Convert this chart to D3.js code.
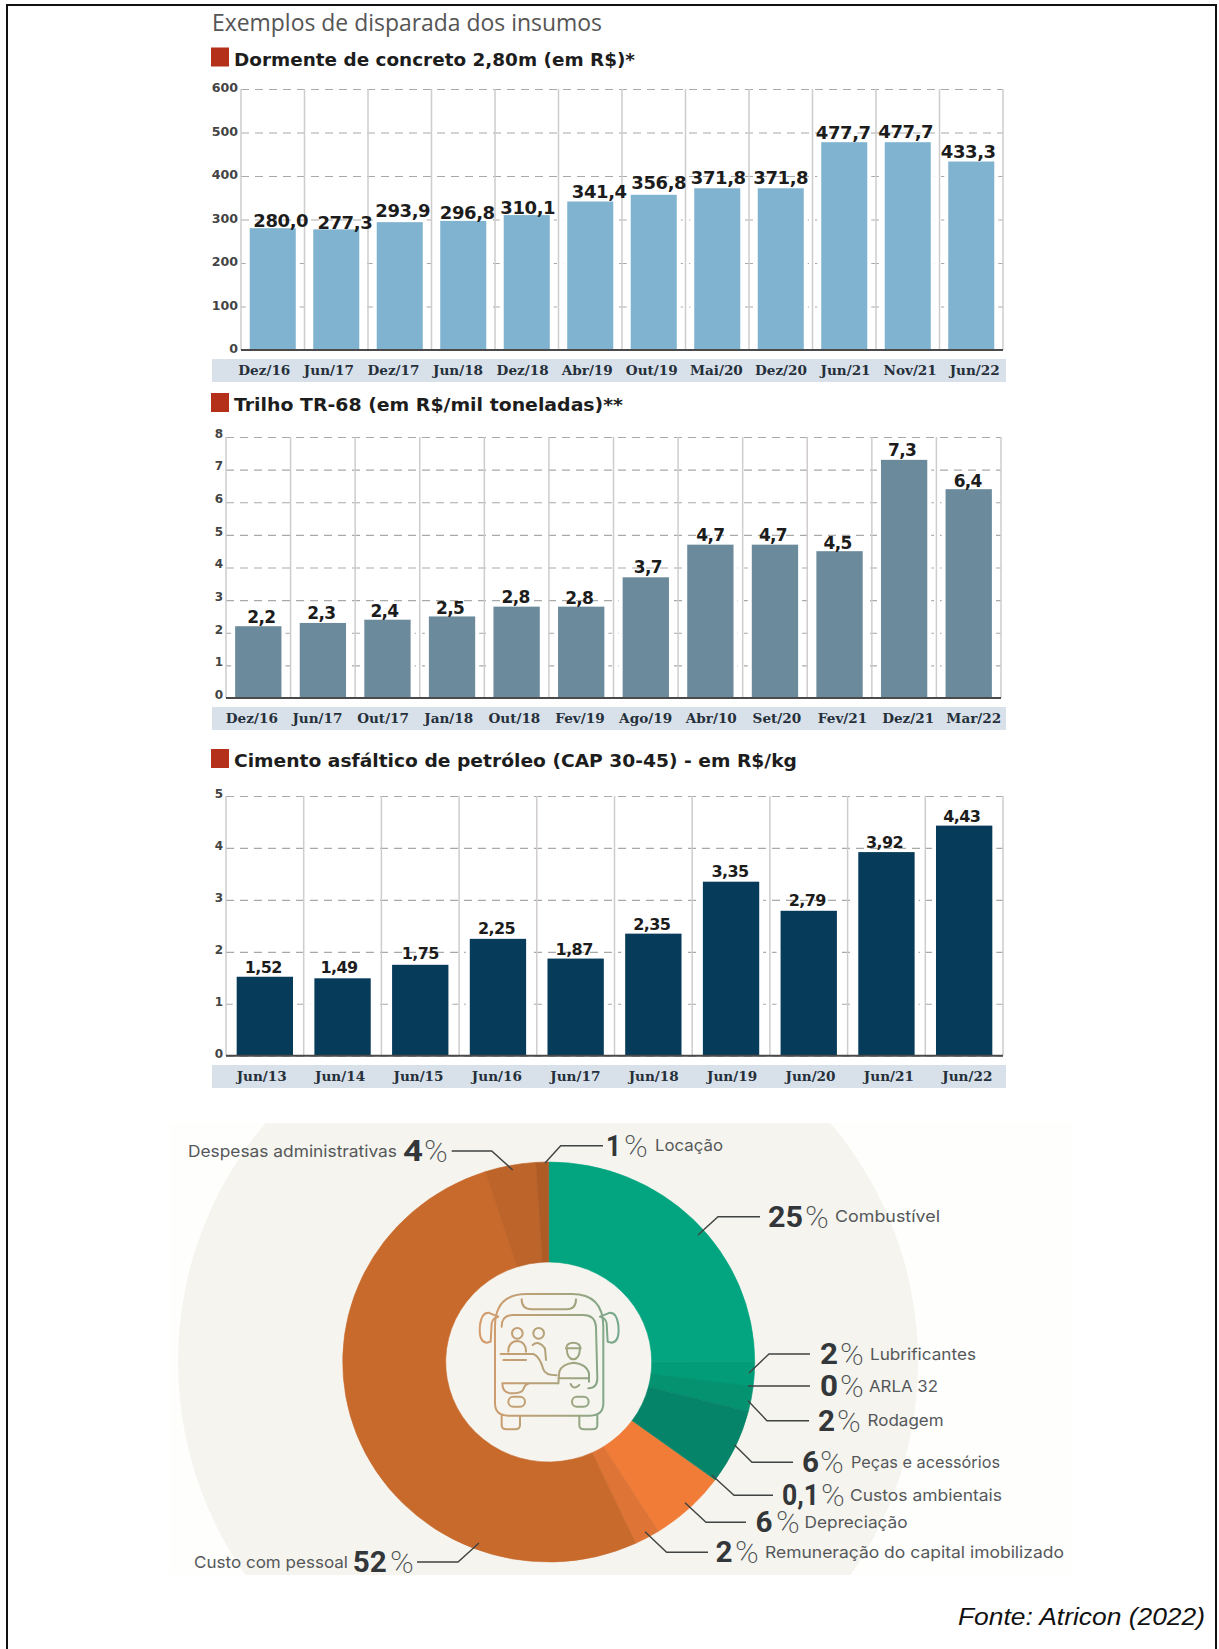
<!DOCTYPE html>
<html lang="pt-BR">
<head>
<meta charset="utf-8">
<title>Exemplos de disparada dos insumos</title>
<script src="https://cdnjs.cloudflare.com/ajax/libs/d3/7.9.0/d3.min.js"></script>
<style>
  html, body { margin: 0; padding: 0; background: #fff; }
  svg { display: block; }
</style>
</head>
<body>
<svg id="page" width="1219" height="1649"></svg>
<script>
// Dormente de concreto
const dormenteCats = ["Dez/16","Jun/17","Dez/17","Jun/18","Dez/18","Abr/19","Out/19","Mai/20","Dez/20","Jun/21","Nov/21","Jun/22"];
const dormenteVals = [280.0,277.3,293.9,296.8,310.1,341.4,356.8,371.8,371.8,477.7,477.7,433.3];
const dormenteTicks = [0,100,200,300,400,500,600];

// Trilho TR-68
const trilhoCats = ["Dez/16","Jun/17","Out/17","Jan/18","Out/18","Fev/19","Ago/19","Abr/10","Set/20","Fev/21","Dez/21","Mar/22"];
const trilhoVals = [2.2,2.3,2.4,2.5,2.8,2.8,3.7,4.7,4.7,4.5,7.3,6.4];
const trilhoTicks = [0,1,2,3,4,5,6,7,8];

// Cimento asfáltico
const capCats = ["Jun/13","Jun/14","Jun/15","Jun/16","Jun/17","Jun/18","Jun/19","Jun/20","Jun/21","Jun/22"];
const capVals = [1.52,1.49,1.75,2.25,1.87,2.35,3.35,2.79,3.92,4.43];
const capTicks = [0,1,2,3,4,5];

// Composição de custos
const custoNomes = ["Combustível","Lubrificantes","ARLA 32","Rodagem","Peças e acessórios","Custos ambientais","Depreciação","Remuneração do capital imobilizado","Custo com pessoal","Despesas administrativas","Locação"];
const custoVals = [25,2,0,2,6,0.1,6,2,52,4,1];
const custoCores = ["#02A580","#039C79","#049472","#049270","#06846A","#06846A","#F07C38","#DE7436","#C96A2D","#BC6429","#AE5B26"];

// Hand-set label placement for the bar values: horizontal nudge and gap over the bar
const dormenteNudge = [8,8.6,3,4,1,9,5,1,0,-1,-2,-3];
const dormenteGap = [1.5,0.4,5.5,1.9,1.1,3.8,5.8,4.3,4.3,3.5,4.2,3.5];
const trilhoNudge = [3,-1.5,-3,-2,-1,-2,2,0,-2,-2,-2,-1];
const trilhoGap = [3,4,3,2.5,3.5,2.5,4,4,4,2,3.5,2.5];
const capNudge = [-1.5,-3.5,0,-1.5,-1.5,-1.5,-1,-1.5,-2,-2.4];
const capGap = [3.8,5,6,5,3.6,3.7,4.4,5,4,4];

const svg = d3.select("#page");
const SANS_BOLD = "'DejaVu Sans', sans-serif";
const SERIF_BOLD = "'DejaVu Serif', serif";

// Page frame: open at the bottom edge
svg.append("path").attr("d", "M7 1649 V5 H1216 V1649")
  .attr("fill", "none").attr("stroke", "#111").attr("stroke-width", 2);

svg.append("text").attr("x", 212).attr("y", 31)
  .attr("textLength", 390).attr("lengthAdjust", "spacingAndGlyphs")
  .style("font", "400 24px 'Open Sans', sans-serif").style("fill", "#555")
  .text("Exemplos de disparada dos insumos");

function barPanel(o) {
  const g = svg.append("g");

  // Section heading with its red square
  g.append("rect").attr("x", 211).attr("y", o.titleY - 18).attr("width", 18).attr("height", 19).attr("fill", "#B5301A");
  g.append("text").attr("x", 234).attr("y", o.titleY)
    .attr("textLength", o.titleWidth).attr("lengthAdjust", "spacingAndGlyphs")
    .style("font", `700 17.5px ${SANS_BOLD}`).style("fill", "#1d1d1d").text(o.title);

  const x = d3.scaleBand().domain(o.cats.map((_, i) => i)).range([o.left, o.right])
    .paddingInner(o.pad).paddingOuter(o.pad / 2);
  const y = d3.scaleLinear().domain([0, d3.max(o.ticks)]).range([o.zeroY, o.topY]);

  // Dashed horizontal grid and value axis
  const yAxis = g.append("g").attr("transform", `translate(${o.left},0)`)
    .call(d3.axisLeft(y).tickValues(o.ticks).tickFormat(d3.format("d")).tickSize(-(o.right - o.left)).tickPadding(3));
  yAxis.select(".domain").remove();
  yAxis.selectAll("line").attr("stroke", "#a9a9a9").attr("stroke-width", 1.2).attr("stroke-dasharray", "8 6");
  yAxis.selectAll("text")
    .attr("dy", o.tickDy)
    .style("font", `700 ${o.tickFont}px ${SANS_BOLD}`).style("fill", "#444");

  // Vertical separators between categories
  g.append("g").selectAll("line").data(d3.range(o.cats.length + 1)).join("line")
    .attr("x1", i => o.left + i * x.step()).attr("x2", i => o.left + i * x.step())
    .attr("y1", o.topY).attr("y2", o.zeroY)
    .attr("stroke", "#cfcccb").attr("stroke-width", 1.5);

  // Bars, each with a thin white keyline that breaks the grid
  const barras = g.append("g");
  barras.selectAll("rect.halo").data(o.vals).join("rect").attr("class", "halo")
    .attr("x", (_, i) => x(i) - 4).attr("width", x.bandwidth() + 8)
    .attr("y", d => y(d) - 3).attr("height", d => y(0) - y(d) + 3)
    .attr("fill", "#fff");
  barras.selectAll("rect.barra").data(o.vals).join("rect").attr("class", "barra")
    .attr("x", (_, i) => x(i)).attr("width", x.bandwidth())
    .attr("y", d => y(d)).attr("height", d => y(0) - y(d))
    .attr("fill", o.color);

  // Baseline
  g.append("line").attr("x1", o.left).attr("x2", o.right).attr("y1", y(0)).attr("y2", y(0))
    .attr("stroke", "#4a4a4a").attr("stroke-width", 2);

  // Value labels
  g.append("g").selectAll("text").data(o.vals).join("text")
    .attr("x", (_, i) => x(i) + x.bandwidth() / 2 + o.nudge[i])
    .attr("y", (d, i) => y(d) - o.gap[i])
    .attr("text-anchor", "middle")
    .style("font", `700 ${o.valueFont}px ${SANS_BOLD}`).style("letter-spacing", o.valueTrack + "px").style("fill", "#1c1c1c")
    .text(d => d3.format(o.fmt)(d).replace(".", ","));

  // Category strip
  g.append("rect").attr("x", 212).attr("y", o.stripY).attr("width", 794).attr("height", 23).attr("fill", "#D8E1EA");
  const strip = d3.scaleBand().domain(o.cats).range(o.stripRange);
  const xAxis = g.append("g").attr("transform", `translate(0,${o.stripY + 16})`)
    .call(d3.axisBottom(strip).tickSize(0).tickPadding(0));
  xAxis.select(".domain").remove();
  xAxis.selectAll("text").attr("dy", 0).attr("y", 0)
    .style("font", `700 13.6px ${SERIF_BOLD}`).style("fill", "#26303a");
}

barPanel({ title: "Dormente de concreto 2,80m (em R$)*", titleY: 65.5, titleWidth: 401,
  cats: dormenteCats, vals: dormenteVals, ticks: dormenteTicks, nudge: dormenteNudge, gap: dormenteGap,
  left: 241, right: 1003, pad: 0.275, zeroY: 350, topY: 89, color: "#7FB3D0",
  tickFont: 12.6, tickDy: "0.22em", valueFont: 18, valueTrack: -0.4, fmt: ".1f", stripY: 359, stripRange: [232, 1007] });

barPanel({ title: "Trilho TR-68 (em R$/mil toneladas)**", titleY: 411, titleWidth: 389,
  cats: trilhoCats, vals: trilhoVals, ticks: trilhoTicks, nudge: trilhoNudge, gap: trilhoGap,
  left: 226, right: 1001, pad: 0.283, zeroY: 698, topY: 437, color: "#6B8A9B",
  tickFont: 12, tickDy: "0.02em", valueFont: 17, valueTrack: -0.7, fmt: ".1f", stripY: 707, stripRange: [219, 1006.6] });

barPanel({ title: "Cimento asfáltico de petróleo (CAP 30-45) - em R$/kg", titleY: 767, titleWidth: 563,
  cats: capCats, vals: capVals, ticks: capTicks, nudge: capNudge, gap: capGap,
  left: 226, right: 1003, pad: 0.275, zeroY: 1055.7, topY: 796, color: "#073B5A",
  tickFont: 12, tickDy: "0.15em", valueFont: 16, valueTrack: -0.6, fmt: ".2f", stripY: 1065, stripRange: [222.5, 1006.5] });

// Donut panel: pale backdrop clipped to a horizontal strip
const defs = svg.append("defs");
defs.append("clipPath").attr("id", "painel").append("rect")
  .attr("x", 170).attr("y", 1123).attr("width", 902).attr("height", 452);
const tinta = defs.append("linearGradient").attr("id", "tinta")
  .attr("gradientUnits", "userSpaceOnUse").attr("x1", 110).attr("x2", 550).attr("y1", 0).attr("y2", 0);
tinta.append("stop").attr("offset", 0).attr("stop-color", "#D79A6B");
tinta.append("stop").attr("offset", 0.55).attr("stop-color", "#ADA47C");
tinta.append("stop").attr("offset", 1).attr("stop-color", "#6FA88E");

const painel = svg.append("g").attr("clip-path", "url(#painel)");
painel.append("rect").attr("x", 170).attr("y", 1123).attr("width", 902).attr("height", 452).attr("fill", "#FEFEFD");
painel.append("circle").attr("cx", 548).attr("cy", 1362).attr("r", 370).attr("fill", "#F5F4EE");

const donut = svg.append("g").attr("transform", "translate(548.7,1362) scale(1.03,1)");
const fatias = d3.pie().sort(null)(custoVals);
const arco = d3.arc().innerRadius(100).outerRadius(200);
donut.selectAll("path").data(fatias).join("path")
  .attr("d", arco)
  .attr("fill", (_, i) => custoCores[i])
  .attr("stroke", (_, i) => custoCores[i])
  .attr("stroke-width", 0.6);

// Bus pictogram at the centre of the ring
const onibus = svg.append("g").attr("transform", "translate(440,1270) scale(0.3333)")
  .attr("fill", "none").attr("stroke", "url(#tinta)").attr("stroke-width", 6)
  .attr("stroke-linecap", "round").attr("stroke-linejoin", "round");
[
  "M165 400 L165 170 Q165 72 260 72 L395 72 Q490 72 490 170 L490 400 Q490 437 450 437 L205 437 Q165 437 165 400 Z",
  "M245 88 Q245 118 275 118 L380 118 Q408 118 408 88",
  "M185 170 Q185 135 220 135 L430 135 Q465 135 468 170 L472 325 Q472 355 445 355 M355 340 L270 340 Q255 342 250 358 Q245 370 215 370 Q187 370 187 340 Z",
  "M175 140 L145 128 Q125 128 120 165 Q115 215 140 218 L152 215 L155 160 Q158 143 175 140",
  "M480 140 L510 128 Q530 128 535 165 Q540 215 515 218 L503 215 L500 160 Q497 143 480 140",
  "M205 245 Q205 215 232 213 Q258 215 258 245",
  "M278 225 Q296 210 315 235 L318 270",
  "M182 252 L280 252 Q300 260 310 298 Q315 316 350 316",
  "M190 270 L258 270",
  "M355 340 L358 305 Q365 282 400 278 Q440 282 447 310 L447 335",
  "M378 235 Q380 218 400 218 Q420 218 422 235 Z",
  "M380 236 Q382 268 400 268 Q418 268 420 236",
  "M355 325 L445 325 M392 342 Q400 362 418 345",
  "M185 437 L185 465 Q185 478 200 478 L225 478 Q240 478 240 465 L240 437",
  "M418 437 L418 465 Q418 478 432 478 L458 478 Q472 478 472 465 L472 437"
].forEach(d => onibus.append("path").attr("d", d));
onibus.append("circle").attr("cx", 232).attr("cy", 190).attr("r", 16);
onibus.append("circle").attr("cx", 296).attr("cy", 190).attr("r", 16);
onibus.append("rect").attr("x", 205).attr("y", 380).attr("width", 50).attr("height", 30).attr("rx", 15);
onibus.append("rect").attr("x", 396).attr("y", 380).attr("width", 50).attr("height", 30).attr("rx", 15);

// Callouts: leader polyline, then figure, percent sign and item name
const chamadas = [
  { nome: 9, pts: [[451.7,1151],[491.7,1151],[512.7,1170]], num: [403,20], pct: 424, txt: [188,209] },
  { nome: 10, pts: [[545,1163],[560.7,1145.7],[603,1145.7]], num: [606,15], pct: 624, txt: [655,68] },
  { nome: 0, pts: [[698,1235],[718,1216.7],[760,1216.7]], num: [768,35], pct: 805, txt: [835,105] },
  { nome: 1, pts: [[749,1373],[769,1354],[810,1354]], num: [820,18], pct: 840, txt: [870,106] },
  { nome: 2, pts: [[748,1386],[810,1386]], num: [820,18], pct: 840, txt: [869,69] },
  { nome: 3, pts: [[748,1400.7],[767,1420.7],[809,1420.7]], num: [818,17], pct: 837, txt: [867.6,76] },
  { nome: 4, pts: [[734.6,1445],[752,1462.3],[793,1462.3]], num: [802,17], pct: 820, txt: [851,149] },
  { nome: 5, pts: [[711.7,1475],[734,1495.3],[773,1495.3]], num: [782,37], pct: 821, txt: [850,152] },
  { nome: 6, pts: [[685,1502.7],[706,1522.3],[746,1522.3]], num: [755.6,17], pct: 776, txt: [804.6,103] },
  { nome: 7, pts: [[645,1531.7],[666.6,1552.3],[708,1552.3]], num: [715.5,17], pct: 735, txt: [765,299] },
  { nome: 8, pts: [[479,1543],[458,1562],[417,1562]], num: [352.7,34], pct: 390, txt: [194,154] }
];
const linha = d3.line();
const rotulos = svg.append("g");
chamadas.forEach(c => {
  const meio = c.pts[c.pts.length > 2 ? 1 : 0][1];
  rotulos.append("path").attr("d", linha(c.pts)).attr("fill", "none")
    .attr("stroke", "#3f4342").attr("stroke-width", 1.4);
  rotulos.append("text").attr("x", c.num[0]).attr("y", meio + 10)
    .attr("textLength", c.num[1]).attr("lengthAdjust", "spacingAndGlyphs")
    .style("font", "700 29px Roboto, sans-serif").style("fill", "#33373a")
    .text(String(custoVals[c.nome]).replace(".", ","));
  rotulos.append("text").attr("x", c.pct).attr("y", meio + 11)
    .style("font", "200 32px Roboto, sans-serif").style("fill", "#4a4d4f").text("%");
  rotulos.append("text").attr("x", c.txt[0]).attr("y", meio + 5.5)
    .attr("textLength", c.txt[1]).attr("lengthAdjust", "spacingAndGlyphs")
    .style("font", "400 16.5px Inter, sans-serif").style("fill", "#55585a")
    .text(custoNomes[c.nome]);
});

svg.append("text").attr("x", 958).attr("y", 1625)
  .attr("textLength", 247).attr("lengthAdjust", "spacingAndGlyphs")
  .style("font", "italic 400 24px 'Liberation Sans', sans-serif").style("fill", "#111")
  .text("Fonte: Atricon (2022)");
</script>
</body>
</html>
